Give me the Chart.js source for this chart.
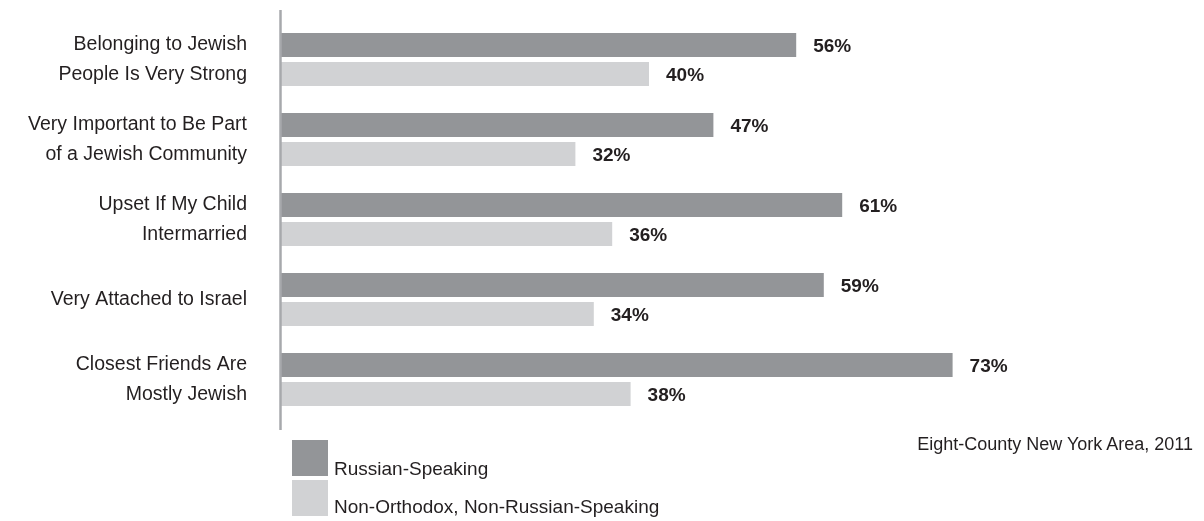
<!DOCTYPE html>
<html>
<head>
<meta charset="utf-8">
<script src="https://cdn.jsdelivr.net/npm/chart.js@4"></script>
<style>
  html, body { margin: 0; padding: 0; background: #fff; }
  #wrap { position: relative; width: 1204px; height: 521px; font-family: "Liberation Sans", Arial, sans-serif; color: #231f20; }
  #chart { position: absolute; left: 0; top: 0; }
  .legend-box { position: absolute; left: 292px; width: 36px; height: 36px; }
  .legend-text { position: absolute; left: 334px; font-size: 19px; line-height: 22px; white-space: nowrap; }
  #note { position: absolute; right: 11px; top: 434px; font-size: 18px; line-height: 21px; white-space: nowrap; }
</style>
</head>
<body>
<div id="wrap">
  <canvas id="chart" width="1204" height="521"></canvas>
  <div class="legend-box" style="top:440px; background:#939598"></div>
  <div class="legend-text" style="top:458px">Russian-Speaking</div>
  <div class="legend-box" style="top:480px; background:#d1d2d4"></div>
  <div class="legend-text" style="top:496px">Non-Orthodox, Non-Russian-Speaking</div>
  <div id="note">Eight-County New York Area, 2011</div>
</div>
<script>
  const categories = [
    ["Belonging to Jewish", "People Is Very Strong"],
    ["Very Important to Be Part", "of a Jewish Community"],
    ["Upset If My Child", "Intermarried"],
    ["Very Attached to Israel"],
    ["Closest Friends Are", "Mostly Jewish"]
  ];
  const russianSpeaking = [56, 47, 61, 59, 73];
  const nonRussian = [40, 32, 36, 34, 38];

  // --- axis line on the left ---
  const axisLine = {
    id: 'axisLine',
    afterDatasetsDraw(chart) {
      const ctx = chart.ctx;
      ctx.save();
      ctx.strokeStyle = '#a7a9ac';
      ctx.lineWidth = 2.5;
      ctx.beginPath();
      ctx.moveTo(280.5, 10);
      ctx.lineTo(280.5, 430);
      ctx.stroke();
      ctx.restore();
    }
  };

  // --- value labels at bar ends ---
  const valueLabels = {
    id: 'valueLabels',
    afterDatasetsDraw(chart) {
      const ctx = chart.ctx;
      ctx.save();
      ctx.fillStyle = '#231f20';
      ctx.font = 'bold 19px "Liberation Sans", Arial, sans-serif';
      ctx.textBaseline = 'middle';
      chart.data.datasets.forEach((ds, i) => {
        chart.getDatasetMeta(i).data.forEach((bar, j) => {
          ctx.fillText(ds.data[j] + '%', bar.x + 17, bar.y + 1.5);
        });
      });
      ctx.restore();
    }
  };

  new Chart(document.getElementById('chart'), {
    type: 'bar',
    data: {
      labels: categories,
      datasets: [
        { label: 'Russian-Speaking', data: russianSpeaking, backgroundColor: '#939598',
          categoryPercentage: 0.725, barPercentage: 0.8276 },
        { label: 'Non-Orthodox, Non-Russian-Speaking', data: nonRussian, backgroundColor: '#d1d2d4',
          categoryPercentage: 0.725, barPercentage: 0.8276 }
      ]
    },
    options: {
      indexAxis: 'y',
      responsive: false,
      animation: false,
      layout: { padding: { top: 19.5, bottom: 101.5, right: 3, left: 0 } },
      plugins: { legend: { display: false }, tooltip: { enabled: false } },
      scales: {
        x: { display: false, min: 0, max: 100 },
        y: {
          grid: { display: false },
          border: { display: false },
          ticks: {
            color: '#231f20',
            padding: 26,
            font: { family: '"Liberation Sans", Arial, sans-serif', size: 19.5, lineHeight: 1.54 }
          },
          afterFit(scale) {
            scale.width = 281;
            scale.paddingTop = 0;
            scale.paddingBottom = 0;
          }
        }
      }
    },
    plugins: [axisLine, valueLabels]
  });
</script>
</body>
</html>
